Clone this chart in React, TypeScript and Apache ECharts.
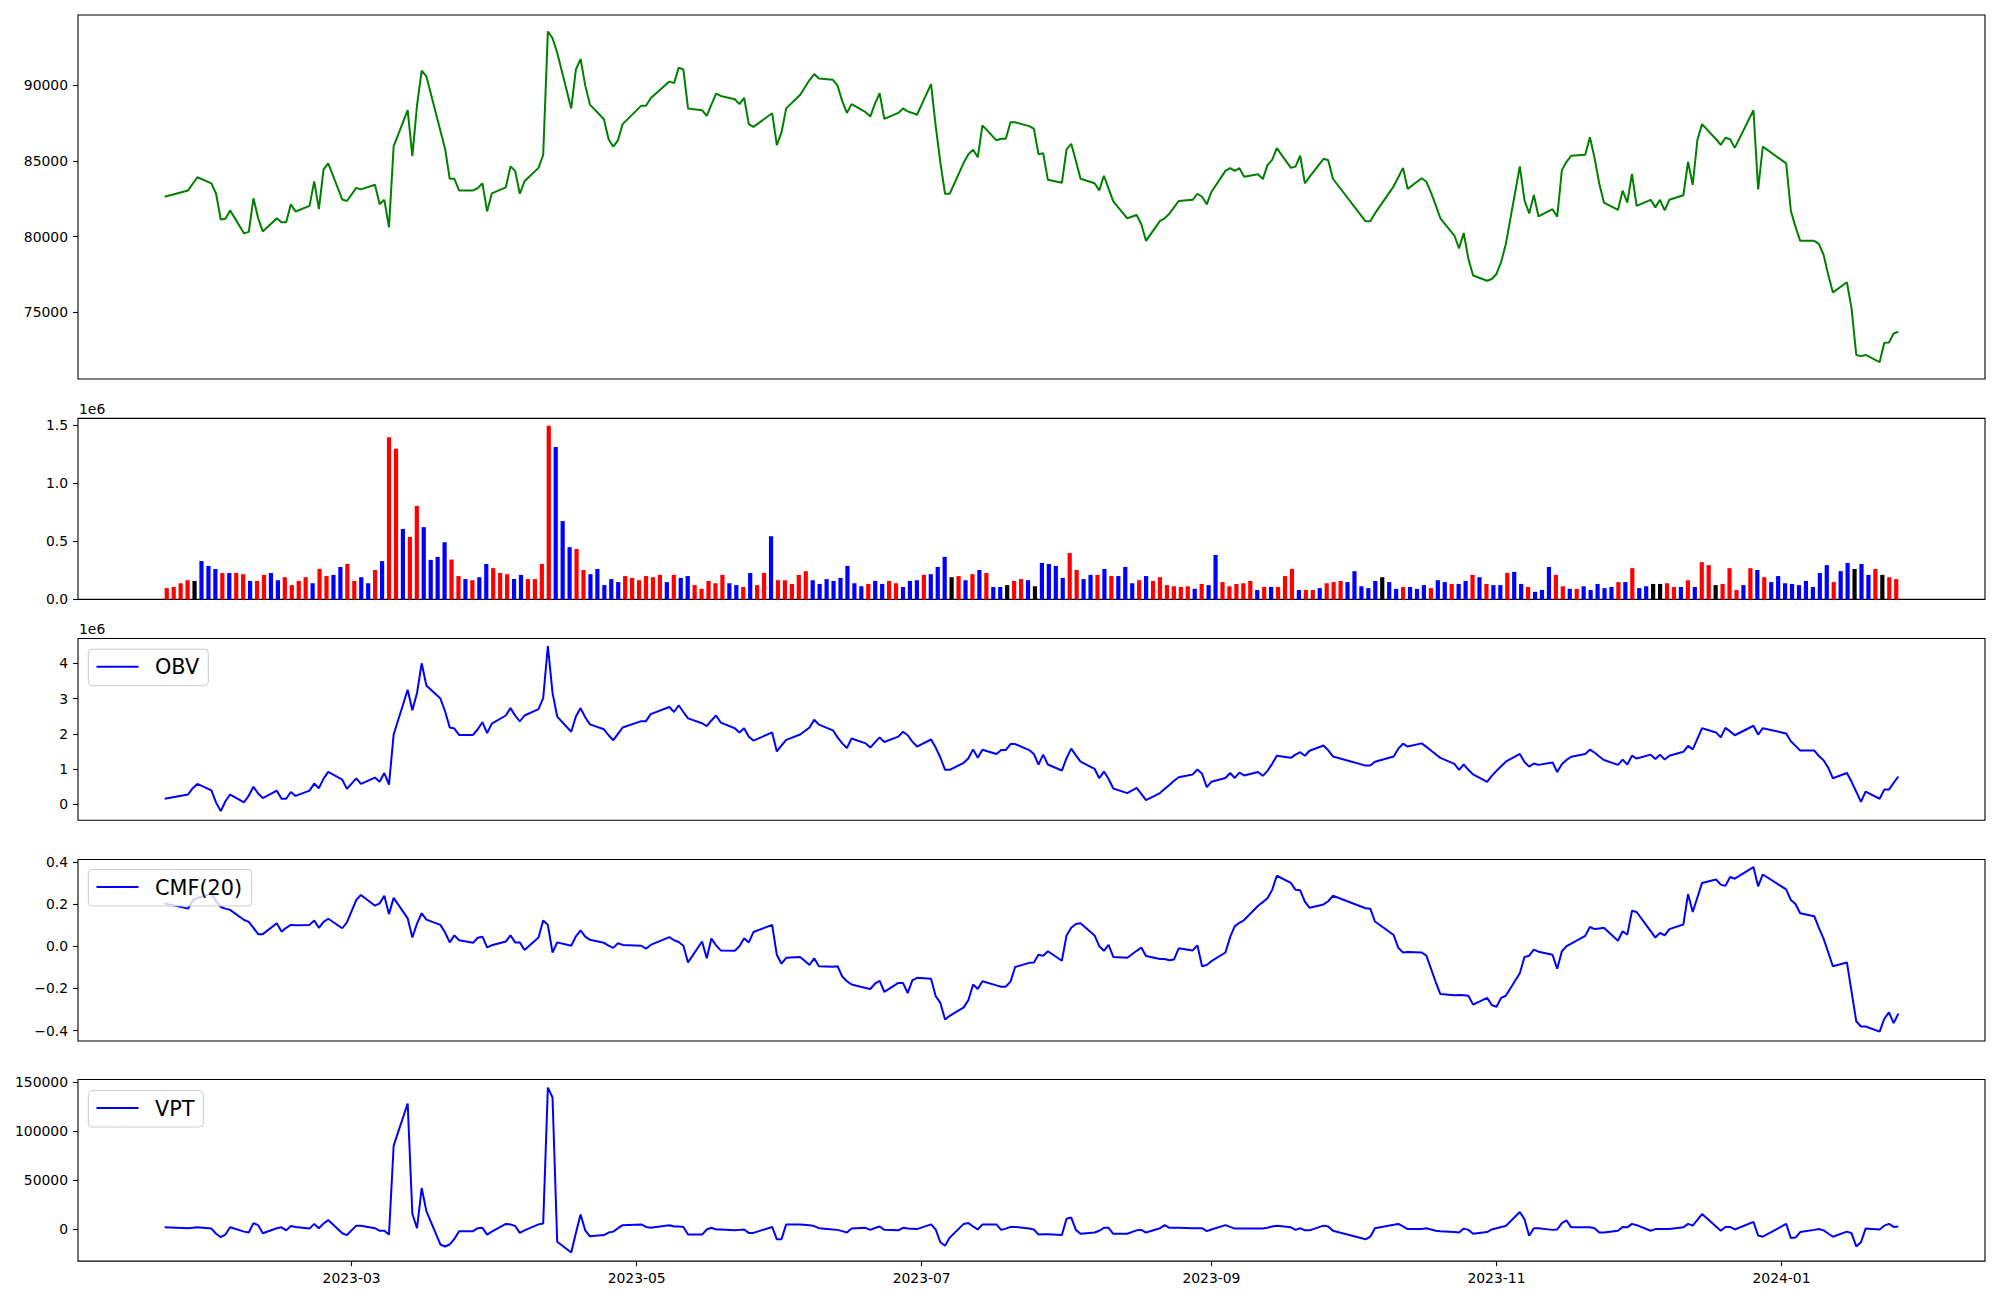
import React, { useEffect, useRef } from "react";
import * as echarts from "echarts";

// ---- calendar (KRX trading days) ----
const START = "2023-01-20";
const END = "2024-01-26";
const HOLIDAYS = [
  "2023-01-23", "2023-01-24", "2023-03-01", "2023-05-01", "2023-05-05", "2023-05-29",
  "2023-06-06", "2023-08-15", "2023-09-28", "2023-09-29", "2023-10-02", "2023-10-03",
  "2023-10-09", "2023-12-25", "2023-12-29", "2024-01-01",
];
const MONTH_TICKS = ["2023-03-01", "2023-05-01", "2023-07-01", "2023-09-01", "2023-11-01", "2024-01-01"];

// ---- data ----
const PRICE = [
  82640, 83060, 83500, 83930, 83530, 82840, 81140, 81190, 81740, 80220,
  80320, 82540, 81220, 80350, 81220, 80950, 80950, 82140, 81670, 82040,
  83660, 81820, 84450, 84850, 82460, 82360, 83230, 83130, 83430, 82140,
  82440, 80620, 85970, 88360, 85320, 88680, 90970, 90600, 87000, 85820,
  83830, 83830, 83060, 83060, 83210, 83530, 81670, 82860, 83260, 84650,
  84350, 82840, 83660, 84550, 85400, 93560, 93110, 92160, 88480, 91050,
  91740, 90000, 88730, 87760, 86440, 85950, 86370, 87440, 88660, 88660,
  89150, 90250, 90150, 91170, 91050, 88480, 88360, 87990, 88730, 89450,
  89300, 89080, 88760, 89180, 87440, 87260, 88160, 86050, 86890, 88480,
  89380, 90350, 90750, 90450, 90370, 89980, 88960, 88180, 88760, 88230,
  87940, 88800, 89480, 87790, 88180, 88480, 88280, 88180, 88060, 90080,
  87310, 84900, 82840, 82840, 84900, 85450, 85750, 85250, 87360, 86370,
  86470, 86470, 87560, 87560, 87310, 87140, 85450, 85520, 83760, 83560,
  85770, 86140, 85000, 83830, 83530, 83060, 84030, 83180, 82340, 81220,
  81440, 80820, 79730, 81050, 81220, 81520, 81940, 82360, 82440, 82840,
  82640, 82140, 82960, 84350, 84530, 84350, 84530, 83960, 84130, 83810,
  84730, 85080, 85850, 84550, 84630, 85350, 83530, 83960, 85150, 85050,
  83830, 81020, 81020, 81540, 83330, 83930, 84550, 83160, 83860, 83630,
  82910, 82090, 81220, 80080, 79230, 80250, 78530, 77440, 77090, 77210,
  77540, 78330, 79500, 84650, 82410, 81540, 82760, 81340, 81820, 81320,
  84400, 84950, 85350, 85420, 86570, 85200, 83510, 82260, 81770, 83040,
  82260, 84150, 82040, 82440, 81940, 82440, 81740, 82440, 82740, 84950,
  83430, 86390, 87440, 86440, 86070, 86540, 86440, 85870, 88360, 83130,
  85950, 84850, 81720, 80650, 79730, 79730, 79530, 78810, 77490, 76320,
  76990, 75250, 72190, 72110, 72190, 71720, 72990, 73010, 73610, 73730,
];

// volume in thousands of shares
const VOLUME_K = [
  97, 107, 139, 165, 159, 330, 288, 262, 227, 227,
  227, 217, 159, 159, 211, 227, 165, 191, 123, 159,
  191, 139, 262, 201, 211, 279, 305, 159, 191, 139,
  253, 330, 1396, 1296, 606, 538, 804, 622, 340, 366,
  492, 343, 201, 175, 165, 191, 305, 269, 227, 217,
  175, 211, 175, 175, 305, 1494, 1312, 674, 450, 434,
  253, 217, 262, 123, 175, 149, 201, 185, 165, 201,
  191, 211, 149, 211, 185, 201, 123, 91, 159, 139,
  211, 139, 123, 107, 227, 123, 227, 544, 165, 165,
  133, 211, 243, 165, 133, 175, 159, 185, 288, 139,
  113, 133, 159, 133, 159, 139, 107, 159, 165, 211,
  217, 279, 366, 191, 201, 165, 217, 253, 227, 107,
  107, 123, 159, 175, 165, 113, 314, 305, 288, 185,
  399, 253, 175, 211, 211, 262, 201, 201, 279, 139,
  165, 201, 159, 191, 123, 113, 107, 113, 91, 133,
  123, 382, 149, 113, 133, 139, 159, 81, 107, 107,
  107, 201, 262, 81, 81, 81, 97, 139, 149, 159,
  149, 243, 113, 97, 159, 191, 149, 91, 107, 107,
  91, 123, 97, 165, 149, 133, 133, 159, 211, 191,
  133, 123, 123, 227, 237, 133, 107, 65, 81, 279,
  211, 113, 91, 91, 113, 81, 133, 97, 107, 149,
  149, 269, 97, 113, 133, 133, 139, 107, 107, 165,
  107, 321, 295, 123, 133, 269, 81, 123, 269, 253,
  191, 149, 201, 139, 133, 123, 159, 107, 227, 295,
  149, 243, 314, 262, 305, 211, 262, 211, 191, 175,
];

// bar colour per day: r = red, b = blue, k = black
const VOLUME_DIR =
  "rrrrkbbbrb" + "rrbrrbbrrr" + "rbrrbbrrbb" + "rbrrbrrbbb" + "brrbrbbrrr" +
  "bbrrrrbbbr" + "rbbbbbrrrr" + "rrbrbbrrrr" + "rbbrbrrbrr" + "rrrbbbbbbb" +
  "brbbrrbbbr" + "bbbkrbrbrb" + "bkrrbkbbbb" + "rrbbrbrbbb" + "rbrrrrrrbr" +
  "bbrrrrrbrb" + "rrrbrrbrrr" + "bbbbbkbbrb" + "bbrbbrbbrb" + "rbbrbbrbbb" +
  "rrbrbbbbbr" + "brbbkkrrbr" + "brrkrrrbrb" + "rbbbbbbbbb" + "rbbkbbrkrr";

// OBV in millions
const OBV_M = [
  0.16, 0.28, 0.46, 0.58, 0.40, 0.05, -0.19, 0.09, 0.28, 0.06,
  0.25, 0.50, 0.31, 0.18, 0.39, 0.16, 0.16, 0.35, 0.24, 0.39,
  0.59, 0.46, 0.73, 0.92, 0.70, 0.44, 0.74, 0.58, 0.76, 0.64,
  0.89, 0.56, 1.98, 3.25, 2.67, 3.16, 4.00, 3.37, 3.00, 2.64,
  2.18, 2.15, 1.97, 1.97, 2.13, 2.33, 2.02, 2.29, 2.52, 2.73,
  2.52, 2.35, 2.52, 2.70, 3.01, 4.49, 3.16, 2.49, 2.06, 2.49,
  2.73, 2.47, 2.27, 2.13, 1.96, 1.82, 2.00, 2.18, 2.36, 2.36,
  2.56, 2.76, 2.62, 2.81, 2.62, 2.44, 2.30, 2.22, 2.38, 2.52,
  2.32, 2.16, 2.04, 2.16, 1.92, 1.81, 2.04, 1.50, 1.67, 1.83,
  1.98, 2.18, 2.40, 2.26, 2.10, 1.90, 1.73, 1.60, 1.87, 1.73,
  1.61, 1.76, 1.90, 1.77, 1.92, 2.06, 1.96, 1.78, 1.64, 1.84,
  1.61, 1.33, 0.98, 0.98, 1.18, 1.31, 1.56, 1.32, 1.55, 1.43,
  1.54, 1.54, 1.71, 1.71, 1.54, 1.43, 1.13, 1.41, 1.13, 0.96,
  1.31, 1.58, 1.39, 1.21, 1.01, 0.74, 0.93, 0.72, 0.45, 0.32,
  0.47, 0.30, 0.12, 0.32, 0.44, 0.55, 0.67, 0.77, 0.85, 0.99,
  0.87, 0.49, 0.64, 0.75, 0.89, 0.75, 0.90, 0.82, 0.92, 0.81,
  0.95, 1.15, 1.38, 1.32, 1.41, 1.48, 1.38, 1.52, 1.67, 1.53,
  1.36, 1.10, 1.10, 1.21, 1.36, 1.58, 1.72, 1.64, 1.73, 1.63,
  1.53, 1.42, 1.32, 1.15, 0.98, 1.13, 0.98, 0.85, 0.64, 0.81,
  0.95, 1.08, 1.21, 1.43, 1.20, 1.07, 1.16, 1.12, 1.19, 0.92,
  1.14, 1.26, 1.35, 1.43, 1.55, 1.47, 1.36, 1.26, 1.12, 1.27,
  1.13, 1.38, 1.30, 1.41, 1.29, 1.41, 1.27, 1.38, 1.49, 1.66,
  1.56, 1.86, 2.16, 2.04, 1.90, 2.17, 2.07, 1.96, 2.23, 1.98,
  2.16, 2.01, 1.79, 1.66, 1.53, 1.53, 1.37, 1.25, 1.04, 0.74,
  0.89, 0.64, 0.36, 0.07, 0.36, 0.16, 0.42, 0.42, 0.61, 0.79,
];

const CMF20 = [
  0.203, 0.178, 0.217, 0.229, 0.249, 0.213, 0.186, 0.178, 0.172, 0.124,
  0.115, 0.087, 0.057, 0.057, 0.109, 0.069, 0.087, 0.101, 0.099, 0.101,
  0.122, 0.087, 0.115, 0.130, 0.085, 0.113, 0.219, 0.243, 0.192, 0.203,
  0.239, 0.152, 0.229, 0.132, 0.041, 0.107, 0.156, 0.126, 0.101, 0.065,
  0.018, 0.051, 0.028, 0.016, 0.040, 0.045, -0.006, 0.004, 0.022, 0.051,
  0.018, 0.018, -0.018, 0.041, 0.122, 0.101, -0.030, 0.018, 0.002, 0.047,
  0.075, 0.045, 0.030, 0.016, 0.003, -0.008, 0.014, 0.006, 0.002, -0.012,
  0.006, 0.043, 0.028, 0.020, 0.002, -0.077, 0.022, -0.057, 0.036, 0.004,
  -0.020, -0.022, 0.000, 0.038, 0.018, 0.067, 0.101, -0.041, -0.083, -0.055,
  -0.051, -0.089, -0.057, -0.095, -0.097, -0.095, -0.144, -0.166, -0.182, -0.198,
  -0.203, -0.178, -0.164, -0.217, -0.174, -0.174, -0.223, -0.162, -0.150, -0.154,
  -0.237, -0.269, -0.348, -0.330, -0.290, -0.255, -0.182, -0.203, -0.166, -0.186,
  -0.192, -0.192, -0.168, -0.099, -0.079, -0.077, -0.041, -0.045, -0.024, -0.069,
  0.051, 0.087, 0.105, 0.109, 0.051, 0.000, -0.022, 0.006, -0.051, -0.055,
  -0.022, -0.006, -0.047, -0.061, -0.061, -0.067, -0.063, -0.010, -0.020, 0.004,
  -0.095, -0.089, -0.071, -0.030, 0.043, 0.095, 0.111, 0.124, 0.192, 0.209,
  0.227, 0.267, 0.334, 0.300, 0.267, 0.265, 0.211, 0.182, 0.198, 0.213,
  0.239, 0.180, 0.178, 0.117, 0.053, -0.008, -0.030, -0.028, -0.030, -0.045,
  -0.107, -0.170, -0.227, -0.233, -0.231, -0.233, -0.235, -0.277, -0.245, -0.279,
  -0.288, -0.245, -0.235, -0.128, -0.051, -0.045, -0.016, -0.026, -0.041, -0.107,
  -0.024, 0.000, 0.012, 0.049, 0.091, 0.081, 0.084, 0.087, 0.026, 0.071,
  0.055, 0.168, 0.162, 0.071, 0.041, 0.063, 0.051, 0.081, 0.103, 0.247,
  0.162, 0.231, 0.300, 0.316, 0.292, 0.286, 0.328, 0.320, 0.375, 0.284,
  0.340, 0.269, 0.219, 0.200, 0.156, 0.142, 0.087, 0.036, -0.029, -0.095,
  -0.077, -0.217, -0.356, -0.381, -0.381, -0.405, -0.344, -0.314, -0.365, -0.320,
];

// VPT in thousands
const VPT_K = [
  2.2, 1.3, 1.7, 2.2, 0.9, -4.4, -7.8, -5.2, 2.2, -2.2,
  -3.1, 6.5, 4.4, -3.9, 1.3, 2.2, -0.9, 3.5, 2.6, 0.9,
  5.7, 1.3, 6.1, 9.6, -3.9, -5.7, 3.9, 3.9, 1.3, -1.3,
  -1.3, -5.2, 85.5, 128.6, 16.1, 1.3, 42.3, 18.7, -15.3, -17.4,
  -15.3, -9.6, -1.7, -1.7, 1.3, 1.7, -5.2, -2.2, 5.7, 5.2,
  3.5, -3.5, -0.9, 5.2, 6.1, 144.8, 134.7, -12.6, -23.5, -3.5,
  15.3, -0.9, -7.0, -5.7, -3.1, -2.2, 1.3, 4.4, 5.2, 2.6,
  1.7, 4.4, 3.1, 3.1, 2.6, -5.2, -5.2, 0, 1.7, 0,
  0, -0.9, -0.4, 0, -3.5, -3.5, 2.6, -10.0, -10.0, 5.2,
  5.2, 4.4, 3.5, 1.3, 0, -0.4, -1.7, -3.1, 0.9, 1.7,
  -0.4, 1.5, 3.1, -0.4, -0.9, 1.7, 0.9, 0.7, 0.4, 5.2,
  0, -13.1, -16.6, -8.3, 5.7, 6.5, 3.1, 0, 5.2, 5.2,
  -0.4, 0.9, 2.6, 2.6, 0.9, 0, -5.2, -4.8, -4.8, -5.7,
  10.9, 12.2, -0.4, -4.4, -3.1, -1.3, 1.7, 1.7, -4.4, -4.4,
  -0.9, -0.4, -3.1, 1.3, 4.4, 1.7, 1.7, 1.7, 1.3, 1.3,
  1.3, -1.7, 0, 4.4, 2.6, 0.9, 0.9, 0.9, 0.9, 0.9,
  1.7, 3.1, 3.9, 2.2, -0.4, 1.3, -0.9, -0.9, 3.9, 3.1,
  -1.3, -10.0, -7.4, 1.3, 4.8, 5.7, 3.1, 0.4, 0.4, 1.3,
  0, -1.3, -1.7, -2.6, -3.1, 0.9, -0.4, -4.4, -2.6, 0,
  1.3, 2.6, 3.5, 17.9, 10.5, -6.5, 1.3, 1.3, -0.4, 0,
  6.5, 9.2, 2.2, 2.2, 2.2, 1.3, -3.1, -3.1, -1.3, 2.6,
  2.2, 5.7, 4.4, -1.3, 0.4, 0.4, 0.4, 0.4, 2.2, 5.7,
  3.9, 9.8, 15.7, 3.1, -1.3, 2.6, 2.6, 0, 7.8, -6.1,
  -7.4, 5.7, -8.7, -8.3, -2.6, -0.4, 0.4, -0.9, -4.1, -7.4,
  -2.2, -3.9, -17.4, -13.1, 0.9, 0, 3.9, 5.7, 2.6, 3.1,
];

// tick values
const PRICE_TICKS = [75000, 80000, 85000, 90000];
const VOLUME_TICKS = [0, 500000, 1000000, 1500000];
const OBV_TICKS = [0, 1000000, 2000000, 3000000, 4000000];
const CMF_TICKS = [-0.4, -0.2, 0, 0.2, 0.4];
const VPT_TICKS = [0, 50000, 100000, 150000];

const FONT = "DejaVu Sans";
const DAY = 86400000;

function tradingDays(): number[] {
  const hol = new Set(HOLIDAYS);
  const out: number[] = [];
  const end = Date.parse(END + "T00:00:00Z");
  for (let t = Date.parse(START + "T00:00:00Z"); t <= end; t += DAY) {
    const d = new Date(t);
    const wd = d.getUTCDay();
    if (wd === 0 || wd === 6) continue;
    if (hol.has(d.toISOString().slice(0, 10))) continue;
    out.push(t);
  }
  return out;
}

function minusFmt(v: number, digits: number) {
  const s = Math.abs(v).toFixed(digits);
  return v < -1e-9 ? "\u2212" + s : s;
}

export default function App() {
  const ref = useRef<HTMLDivElement>(null);

  useEffect(() => {
    if (!ref.current) return;
    const chart = echarts.init(ref.current, null, { renderer: "svg" });
    const dates = tradingDays();
    const t0 = dates[0];
    const tN = dates[dates.length - 1];
    const span = tN - t0;
    const tMin = t0 - 0.05 * span;
    const tMax = tN + 0.05 * span;
    const monthTicks = MONTH_TICKS.map((s) => Date.parse(s + "T00:00:00Z"));

    const L = 78;
    const W = 1907;
    const gridBase = { left: L, width: W, show: true, borderColor: "#000", borderWidth: 1.1, backgroundColor: "#fff" };
    const grids = [
      { ...gridBase, top: 15, height: 364 },
      { ...gridBase, top: 418.4, height: 181 },
      { ...gridBase, top: 638.5, height: 181.7 },
      { ...gridBase, top: 859.5, height: 181.5 },
      { ...gridBase, top: 1079.5, height: 181.6 },
    ];

    const labelStyle = { fontFamily: FONT, fontSize: 13.9, color: "#000", margin: 10 };
    const tickStyle = { show: true, length: 5, lineStyle: { color: "#000", width: 1.1 } };
    const noLine = { show: false, onZero: false };

    const hiddenX = (gi: number) => ({
      type: "value", gridIndex: gi, min: tMin, max: tMax, position: "bottom",
      axisLine: noLine, axisTick: { show: false }, axisLabel: { show: false }, splitLine: { show: false },
    });

    const nBars = VOLUME_K.length;
    const barW = 0.6;
    const barSpan = nBars - 1 + barW;
    const xAxis: any[] = [
      hiddenX(0),
      {
        type: "value", gridIndex: 1, position: "bottom",
        min: -barW / 2 - 0.05 * barSpan, max: nBars - 1 + barW / 2 + 0.05 * barSpan,
        axisLine: noLine, axisTick: { show: false }, axisLabel: { show: false }, splitLine: { show: false },
      },
      hiddenX(2),
      hiddenX(3),
      {
        type: "value", gridIndex: 4, min: tMin, max: tMax, position: "bottom",
        axisLine: noLine,
        axisTick: { ...tickStyle, customValues: monthTicks },
        axisLabel: {
          ...labelStyle,
          customValues: monthTicks,
          formatter: (v: number) => {
            const d = new Date(v);
            return d.getUTCFullYear() + "-" + String(d.getUTCMonth() + 1).padStart(2, "0");
          },
        },
        splitLine: { show: false },
      },
    ];

    const yAx = (gi: number, min: number, max: number, ticks: number[], fmt: (v: number) => string) => ({
      type: "value", gridIndex: gi, min, max, position: "left",
      axisLine: noLine,
      axisTick: { ...tickStyle, customValues: ticks },
      axisLabel: { ...labelStyle, customValues: ticks, formatter: fmt },
      splitLine: { show: false },
    });

    const yAxis = [
      yAx(0, 70600, 94650, PRICE_TICKS, (v) => String(Math.round(v))),
      yAx(1, 0, 1558000, VOLUME_TICKS, (v) => (v / 1e6).toFixed(1)),
      yAx(2, -448000, 4703000, OBV_TICKS, (v) => minusFmt(v / 1e6, 0)),
      yAx(3, -0.4496, 0.411, CMF_TICKS, (v) => minusFmt(v, 1)),
      yAx(4, -32264, 153036, VPT_TICKS, (v) => minusFmt(v, 0)),
    ];

    const COLORS: Record<string, string> = { r: "#ff0000", b: "#0000ff", k: "#000000" };
    const lineSeries = (gi: number, values: number[], color: string, name: string) => ({
      type: "line", name, xAxisIndex: gi, yAxisIndex: gi,
      data: dates.map((t, i) => [t, values[i]]),
      symbol: "none", showSymbol: false,
      lineStyle: { color, width: 2 }, itemStyle: { color },
      z: 3,
    });

    const legendGraphic = (top: number, width: number, label: string) => [
      {
        type: "rect", z: 100,
        shape: { x: 88.3, y: top, width, height: 36.4, r: 4 },
        style: { fill: "rgba(255,255,255,0.8)", stroke: "#cccccc", lineWidth: 1 },
      },
      {
        type: "line", z: 101,
        shape: { x1: 96.5, y1: top + 17.5, x2: 138.5, y2: top + 17.5 },
        style: { stroke: "#0000ff", lineWidth: 2 },
      },
      {
        type: "text", z: 101, x: 155, y: top + 18,
        style: { text: label, fontFamily: FONT, fontSize: 20.8, fill: "#000", align: "left", verticalAlign: "middle" },
      },
    ];

    const option: any = {
      animation: false,
      backgroundColor: "#ffffff",
      grid: grids,
      xAxis,
      yAxis,
      series: [
        lineSeries(0, PRICE, "#008000", "Close"),
        {
          type: "bar", name: "Volume", xAxisIndex: 1, yAxisIndex: 1,
          barWidth: 4.2,
          data: VOLUME_K.map((v, i) => ({
            value: [i, v * 1000],
            itemStyle: { color: COLORS[VOLUME_DIR[i]] || "#0000ff" },
          })),
        },
        lineSeries(2, OBV_M.map((v) => v * 1e6), "#0000ff", "OBV"),
        lineSeries(3, CMF20, "#0000ff", "CMF(20)"),
        lineSeries(4, VPT_K.map((v) => v * 1000), "#0000ff", "VPT"),
      ],
      graphic: [
        {
          type: "text", z: 100, x: 79, y: 408.5,
          style: { text: "1e6", fontFamily: FONT, fontSize: 13.9, fill: "#000", align: "left", verticalAlign: "middle" },
        },
        {
          type: "text", z: 100, x: 79, y: 628.5,
          style: { text: "1e6", fontFamily: FONT, fontSize: 13.9, fill: "#000", align: "left", verticalAlign: "middle" },
        },
        ...legendGraphic(649.2, 120, "OBV"),
        ...legendGraphic(869.5, 163.4, "CMF(20)"),
        ...legendGraphic(1090.6, 115, "VPT"),
      ],
    };

    chart.setOption(option);
    return () => chart.dispose();
  }, []);

  return (
    <div
      ref={ref}
      style={{ position: "absolute", left: 0, top: 0, width: 2000, height: 1300, background: "#fff" }}
    />
  );
}
